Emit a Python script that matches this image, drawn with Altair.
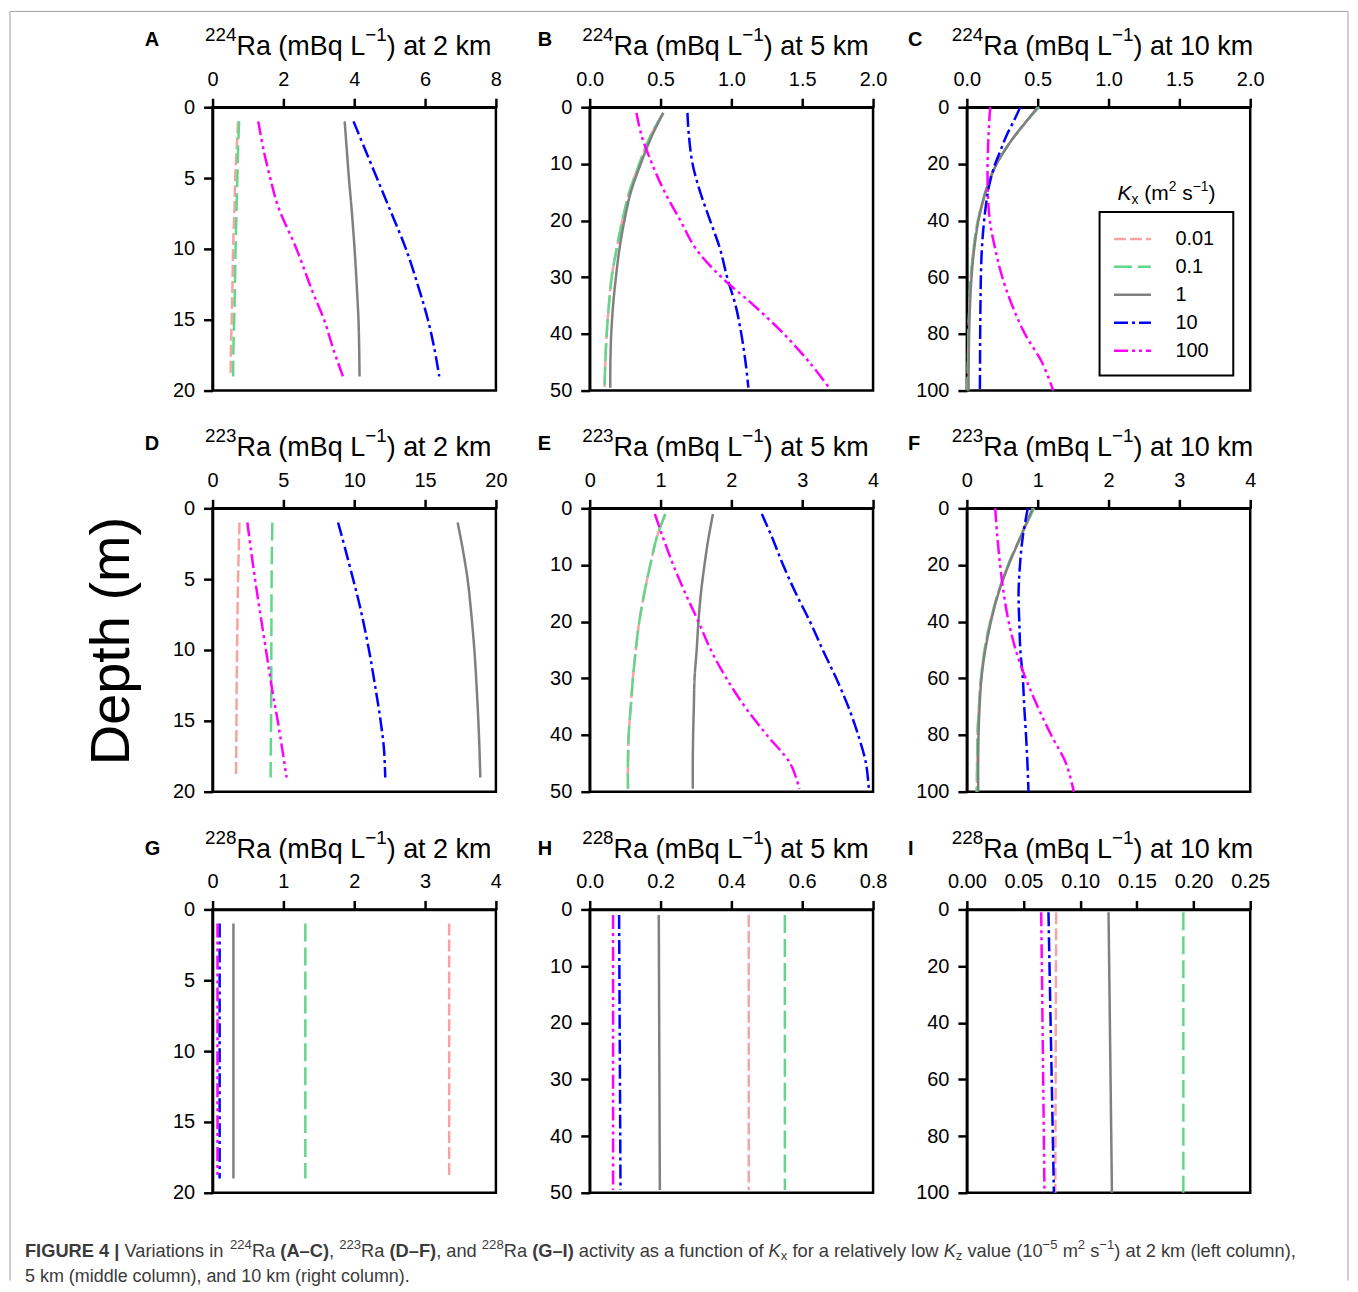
import altair as alt
import pandas as pd

FONT = "Liberation Sans"
KX = ["0.01", "0.1", "1", "10", "100"]
COLORS = ["#F7A3A3", "#62D68A", "#808080", "#0000FF", "#FF00FF"]
DASHES = [[12, 4], [18, 6], [1, 0], [14, 4, 3, 4], [14, 4, 3, 4, 3, 4]]

# ---------------- data ----------------
# 224Ra, 2 km
A_depth = [1, 3, 5, 7, 10, 13, 15, 17, 19]
A_k001 = [0.72, 0.68, 0.64, 0.62, 0.58, 0.56, 0.54, 0.52, 0.51]
A_k01 = [0.75, 0.72, 0.70, 0.68, 0.65, 0.63, 0.61, 0.59, 0.58]
A_k1 = [3.73, 3.79, 3.85, 3.92, 4.01, 4.08, 4.12, 4.14, 4.15]
A_k10 = [3.98, 4.31, 4.64, 4.97, 5.46, 5.85, 6.08, 6.26, 6.40]
A_k100 = [1.29, 1.44, 1.63, 1.85, 2.37, 2.82, 3.15, 3.40, 3.68]
# 224Ra, 5 km
B_depth = [1, 5, 10, 15, 20, 25, 30, 35, 40, 45, 49.5]
B_k001 = [0.52, 0.43, 0.35, 0.28, 0.23, 0.19, 0.155, 0.135, 0.12, 0.11, 0.105]
B_k01 = [0.52, 0.43, 0.35, 0.28, 0.23, 0.19, 0.155, 0.135, 0.12, 0.11, 0.105]
B_k1 = [0.52, 0.44, 0.36, 0.29, 0.245, 0.21, 0.185, 0.165, 0.152, 0.146, 0.145]
B_k10 = [0.69, 0.70, 0.726, 0.78, 0.85, 0.92, 0.97, 1.03, 1.07, 1.10, 1.12]
B_k100 = [0.33, 0.366, 0.44, 0.53, 0.64, 0.75, 0.93, 1.16, 1.37, 1.55, 1.69]
# 224Ra, 10 km
C_depth = [0, 5, 10, 15, 20, 25, 30, 40, 50, 60, 70, 80, 90, 100]
C_k001 = [0.50, 0.42, 0.34, 0.27, 0.21, 0.165, 0.13, 0.078, 0.047, 0.028, 0.018, 0.012, 0.008, 0.005]
C_k01 = [0.51, 0.42, 0.34, 0.27, 0.21, 0.165, 0.13, 0.078, 0.047, 0.028, 0.018, 0.012, 0.008, 0.005]
C_k1 = [0.50, 0.42, 0.34, 0.27, 0.21, 0.166, 0.132, 0.082, 0.052, 0.033, 0.022, 0.016, 0.013, 0.012]
C_k10 = [0.377, 0.33, 0.28, 0.24, 0.20, 0.17, 0.148, 0.122, 0.106, 0.099, 0.096, 0.094, 0.093, 0.092]
C_k100 = [0.165, 0.158, 0.153, 0.149, 0.146, 0.146, 0.148, 0.162, 0.20, 0.25, 0.32, 0.41, 0.53, 0.61]
# 223Ra, 2 km
D_depth = [1, 3, 5, 7, 10, 13, 15, 17, 19]
D_k001 = [1.90, 1.85, 1.80, 1.77, 1.73, 1.70, 1.69, 1.67, 1.66]
D_k01 = [4.22, 4.19, 4.17, 4.16, 4.15, 4.14, 4.13, 4.11, 4.10]
D_k1 = [17.30, 17.68, 18.00, 18.22, 18.48, 18.66, 18.76, 18.84, 18.90]
D_k10 = [8.86, 9.40, 9.92, 10.42, 11.04, 11.55, 11.86, 12.10, 12.19]
D_k100 = [2.46, 2.72, 3.00, 3.30, 3.77, 4.24, 4.60, 4.92, 5.23]
# 223Ra, 5 km
E_depth = [1, 5, 10, 15, 20, 25, 30, 35, 40, 45, 49.5]
E_k001 = [1.066, 0.95, 0.855, 0.77, 0.70, 0.65, 0.61, 0.58, 0.55, 0.54, 0.54]
E_k01 = [1.066, 0.95, 0.855, 0.77, 0.70, 0.65, 0.61, 0.58, 0.55, 0.54, 0.54]
E_k1 = [1.74, 1.68, 1.62, 1.57, 1.535, 1.51, 1.48, 1.47, 1.46, 1.455, 1.455]
E_k10 = [2.43, 2.57, 2.73, 2.91, 3.11, 3.29, 3.48, 3.65, 3.79, 3.90, 3.94]
E_k100 = [0.92, 1.03, 1.18, 1.35, 1.535, 1.71, 1.93, 2.19, 2.50, 2.83, 2.96]
# 223Ra, 10 km
F_depth = [0, 10, 20, 30, 40, 50, 60, 70, 80, 90, 100]
F_k001 = [0.93, 0.76, 0.58, 0.44, 0.33, 0.25, 0.20, 0.17, 0.15, 0.145, 0.14]
F_k01 = [0.95, 0.76, 0.58, 0.44, 0.33, 0.25, 0.20, 0.17, 0.15, 0.145, 0.14]
F_k1 = [0.93, 0.76, 0.59, 0.445, 0.34, 0.26, 0.206, 0.18, 0.165, 0.16, 0.16]
F_k10 = [0.86, 0.79, 0.75, 0.73, 0.74, 0.755, 0.79, 0.81, 0.835, 0.855, 0.87]
F_k100 = [0.40, 0.43, 0.47, 0.52, 0.59, 0.69, 0.83, 1.00, 1.19, 1.40, 1.51]
# 228Ra, 2 km
G_depth = [1, 19]
G_k001 = [3.34, 3.34]
G_k01 = [1.31, 1.31]
G_k1 = [0.295, 0.295]
G_k10 = [0.10, 0.10]
G_k100 = [0.07, 0.07]
# 228Ra, 5 km
H_depth = [1, 49.5]
H_k001 = [0.449, 0.449]
H_k01 = [0.551, 0.551]
H_k1 = [0.195, 0.198]
H_k10 = [0.083, 0.087]
H_k100 = [0.066, 0.066]
# 228Ra, 10 km
I_depth = [1, 100]
I_k001 = [0.0788, 0.078]
I_k01 = [0.191, 0.191]
I_k1 = [0.125, 0.128]
I_k10 = [0.072, 0.0768]
I_k100 = [0.0656, 0.0685]

PANELS = [
    dict(letter="A", iso="224", dist="2", depth=A_depth, series=[A_k001, A_k01, A_k1, A_k10, A_k100],
         xdom=[0, 8], xticks=[0, 2, 4, 6, 8], xfmt="d", ydom=[0, 20], yticks=[0, 5, 10, 15, 20]),
    dict(letter="B", iso="224", dist="5", depth=B_depth, series=[B_k001, B_k01, B_k1, B_k10, B_k100],
         xdom=[0, 2], xticks=[0, 0.5, 1, 1.5, 2], xfmt=".1f", ydom=[0, 50], yticks=[0, 10, 20, 30, 40, 50]),
    dict(letter="C", iso="224", dist="10", depth=C_depth, series=[C_k001, C_k01, C_k1, C_k10, C_k100],
         xdom=[0, 2], xticks=[0, 0.5, 1, 1.5, 2], xfmt=".1f", ydom=[0, 100], yticks=[0, 20, 40, 60, 80, 100]),
    dict(letter="D", iso="223", dist="2", depth=D_depth, series=[D_k001, D_k01, D_k1, D_k10, D_k100],
         xdom=[0, 20], xticks=[0, 5, 10, 15, 20], xfmt="d", ydom=[0, 20], yticks=[0, 5, 10, 15, 20]),
    dict(letter="E", iso="223", dist="5", depth=E_depth, series=[E_k001, E_k01, E_k1, E_k10, E_k100],
         xdom=[0, 4], xticks=[0, 1, 2, 3, 4], xfmt="d", ydom=[0, 50], yticks=[0, 10, 20, 30, 40, 50]),
    dict(letter="F", iso="223", dist="10", depth=F_depth, series=[F_k001, F_k01, F_k1, F_k10, F_k100],
         xdom=[0, 4], xticks=[0, 1, 2, 3, 4], xfmt="d", ydom=[0, 100], yticks=[0, 20, 40, 60, 80, 100]),
    dict(letter="G", iso="228", dist="2", depth=G_depth, series=[G_k001, G_k01, G_k1, G_k10, G_k100],
         xdom=[0, 4], xticks=[0, 1, 2, 3, 4], xfmt="d", ydom=[0, 20], yticks=[0, 5, 10, 15, 20]),
    dict(letter="H", iso="228", dist="5", depth=H_depth, series=[H_k001, H_k01, H_k1, H_k10, H_k100],
         xdom=[0, 0.8], xticks=[0, 0.2, 0.4, 0.6, 0.8], xfmt=".1f", ydom=[0, 50], yticks=[0, 10, 20, 30, 40, 50]),
    dict(letter="I", iso="228", dist="10", depth=I_depth, series=[I_k001, I_k01, I_k1, I_k10, I_k100],
         xdom=[0, 0.25], xticks=[0, 0.05, 0.1, 0.15, 0.2, 0.25], xfmt=".2f", ydom=[0, 100], yticks=[0, 20, 40, 60, 80, 100]),
]

# ---------------- layout ----------------
W = 284
H = 284
GAPX = 94
GAPY = 118
X0 = 213   # page x of first plot area
Y0 = 106   # page y of first plot area


def origin(i):
    r, c = divmod(i, 3)
    return X0 + c * (W + GAPX), Y0 + r * (H + GAPY)


AW = {' ': 278, '(': 333, ')': 333, ',': 278, '-': 333, '.': 278, '|': 260, '−': 584, '–': 556,
      'A': 667, 'B': 667, 'C': 722, 'D': 722, 'E': 667, 'F': 611, 'G': 778, 'H': 722, 'I': 278,
      'K': 667, 'L': 556, 'R': 722, 'U': 722, 'V': 667,
      'a': 556, 'b': 556, 'c': 500, 'd': 556, 'e': 556, 'f': 278, 'g': 556, 'h': 556, 'i': 222,
      'k': 500, 'l': 222, 'm': 833, 'n': 556, 'o': 556, 'p': 556, 'q': 556, 'r': 333, 's': 500,
      't': 278, 'u': 556, 'v': 500, 'w': 722, 'x': 500, 'y': 500, 'z': 500}
AWB = dict(AW)
AWB.update({'A': 722, 'C': 722, 'D': 722, 'F': 611, 'G': 778, 'I': 278, 'R': 722, 'U': 722,
            'E': 667, '|': 280})


def tw(s, size, bold=False):
    t = AWB if bold else AW
    return sum(t.get(ch, 556) for ch in s) * size / 1000.0


one = pd.DataFrame({"o": [0]})


def txt(s, x, y, size, weight="normal", style="normal", color="black", align="left",
        baseline="alphabetic", angle=0):
    return alt.Chart(one).mark_text(
        text=s, font=FONT, fontSize=size, fontWeight=weight, fontStyle=style, color=color,
        align=align, baseline=baseline, angle=angle
    ).encode(x=alt.value(x), y=alt.value(y))


def rich(segs, x, y, fs, ox, oy, color="black", sup=0.66, raise_=0.5, drop=0.18):
    """Chain text pieces; leading spaces are converted to offsets (SVG trims them)."""
    out = []
    cx = x
    for s, kind in segs:
        bold = kind == "b"
        if kind in ("sup", "sub"):
            size = fs * sup
            dy = -fs * raise_ if kind == "sup" else fs * drop
        else:
            size = fs
            dy = 0
        lead = len(s) - len(s.lstrip(" "))
        core = s.strip(" ")
        dx = tw(" " * lead, size, bold)
        out.append(txt(core, cx + dx - ox, y + dy - oy, size,
                       weight="bold" if bold else "normal",
                       style="italic" if kind == "i" else "normal", color=color))
        cx += tw(s, size, bold)
    return out


def rule(x1, y1, x2, y2, ox, oy):
    return alt.Chart(one).mark_rule(color="#a0a0a0", strokeWidth=1).encode(
        x=alt.value(x1 - ox), y=alt.value(y1 - oy), x2=alt.value(x2 - ox), y2=alt.value(y2 - oy))


ROW_H = 27.5
leg = alt.Legend(title=None, orient="none", legendX=1115 - X0, legendY=238 - ROW_H / 2 - Y0,
                 symbolType="stroke", symbolSize=1369, symbolStrokeWidth=2.5,
                 labelFontSize=20, labelFont=FONT, labelColor="black", labelOffset=23,
                 clipHeight=ROW_H, rowPadding=0, padding=0)

LETTER_X = [145, 539, 910]
LETTER_Y = [45, 450, 855]
TITLE_FS = 27
TITLE_SUP = 0.7

charts = []
for i, p in enumerate(PANELS):
    ox, oy = origin(i)
    r, c = divmod(i, 3)
    rows = []
    for k, vals in zip(KX, p["series"]):
        for d, v in zip(p["depth"], vals):
            rows.append({"Kx": k, "depth": d, "value": v})
    df = pd.DataFrame(rows)
    lines = alt.Chart(df).mark_line(strokeWidth=2.5, interpolate="catmull-rom").encode(
        x=alt.X("value:Q", scale=alt.Scale(domain=p["xdom"], nice=False, zero=False),
                axis=alt.Axis(orient="top", values=p["xticks"], format=p["xfmt"], title=None)),
        y=alt.Y("depth:Q", scale=alt.Scale(domain=p["ydom"], reverse=True, nice=False, zero=False),
                axis=alt.Axis(values=p["yticks"], title=None)),
        color=alt.Color("Kx:N", scale=alt.Scale(domain=KX, range=COLORS), legend=leg),
        strokeDash=alt.StrokeDash("Kx:N", scale=alt.Scale(domain=KX, range=DASHES), legend=leg),
        order=alt.Order("depth:Q"),
    )
    layers = [lines]
    # panel letter
    layers.append(txt(p["letter"], LETTER_X[c] - ox, LETTER_Y[r] - oy, 20, weight="bold"))
    # panel title
    main2 = ") at %s km" % p["dist"]
    segs = [(p["iso"], "sup"), ("Ra (mBq L", "n"), ("−1", "sup"), (main2, "n")]
    wsum = tw(p["iso"], TITLE_FS * TITLE_SUP) + tw("Ra (mBq L", TITLE_FS) + \
        tw("−1", TITLE_FS * TITLE_SUP) + tw(main2, TITLE_FS)
    tx = ox + W / 2 - 6 - wsum / 2
    layers += rich(segs, tx, oy - 52, TITLE_FS, ox, oy, sup=TITLE_SUP, raise_=0.52)

    if i == 0:
        # figure frame
        layers.append(rule(10, 10, 1351, 10, ox, oy))
        layers.append(rule(10, 10, 10, 1282, ox, oy))
        layers.append(rule(1351, 10, 1351, 1282, ox, oy))
    if i == 2:
        # legend box and title
        layers.append(alt.Chart(one).mark_rect(fillOpacity=0, stroke="black", strokeWidth=2).encode(
            x=alt.value(1102 - ox), x2=alt.value(1236 - ox), y=alt.value(211 - oy), y2=alt.value(375 - oy)))
        lt = [("K", "i"), ("x", "sub"), (" (m", "n"), ("2", "sup"), (" s", "n"), ("−1", "sup"), (")", "n")]
        layers += rich(lt, 1120, 199, 21, ox, oy, raise_=0.45, drop=0.2)
    if i == 3:
        layers.append(txt("Depth (m)", 112 - ox, 641 - oy, 56, align="center", baseline="middle", angle=270))
    if i == 6:
        cap1 = [("FIGURE 4 |", "b"), (" Variations in ", "n"), ("224", "sup"), ("Ra ", "n"), ("(A–C)", "b"),
                (", ", "n"), ("223", "sup"), ("Ra ", "n"), ("(D–F)", "b"), (", and ", "n"), ("228", "sup"),
                ("Ra ", "n"), ("(G–I)", "b"), (" activity as a function of ", "n"), ("K", "i"), ("x", "sub"),
                (" for a relatively low ", "n"), ("K", "i"), ("z", "sub"), (" value (10", "n"), ("−5", "sup"),
                (" m", "n"), ("2", "sup"), (" s", "n"), ("−1", "sup"), (") at 2 km (left column),", "n")]
        layers += rich(cap1, 25, 1258, 18.3, ox, oy, color="#3a3a3a", sup=0.72, raise_=0.4, drop=0.2)
        layers.append(txt("5 km (middle column), and 10 km (right column).", 25 - ox, 1283 - oy, 18,
                          color="#3a3a3a"))
    charts.append(alt.layer(*layers).properties(width=W, height=H))

chart = alt.concat(
    *charts, columns=3, spacing={"row": GAPY, "column": GAPX}, bounds="flush"
).properties(
    padding=0
).configure_axis(
    labelFont=FONT, labelFontSize=20, labelColor="black", tickColor="black", tickWidth=2.5,
    tickSize=9, domainColor="black", domainWidth=2.5, labelPadding=9, grid=False,
    labelFlush=False, labelOverlap=False
).configure_view(
    stroke="black", strokeWidth=2.5
)

chart.save("out.html", embed_options={"renderer": "svg", "actions": False})
